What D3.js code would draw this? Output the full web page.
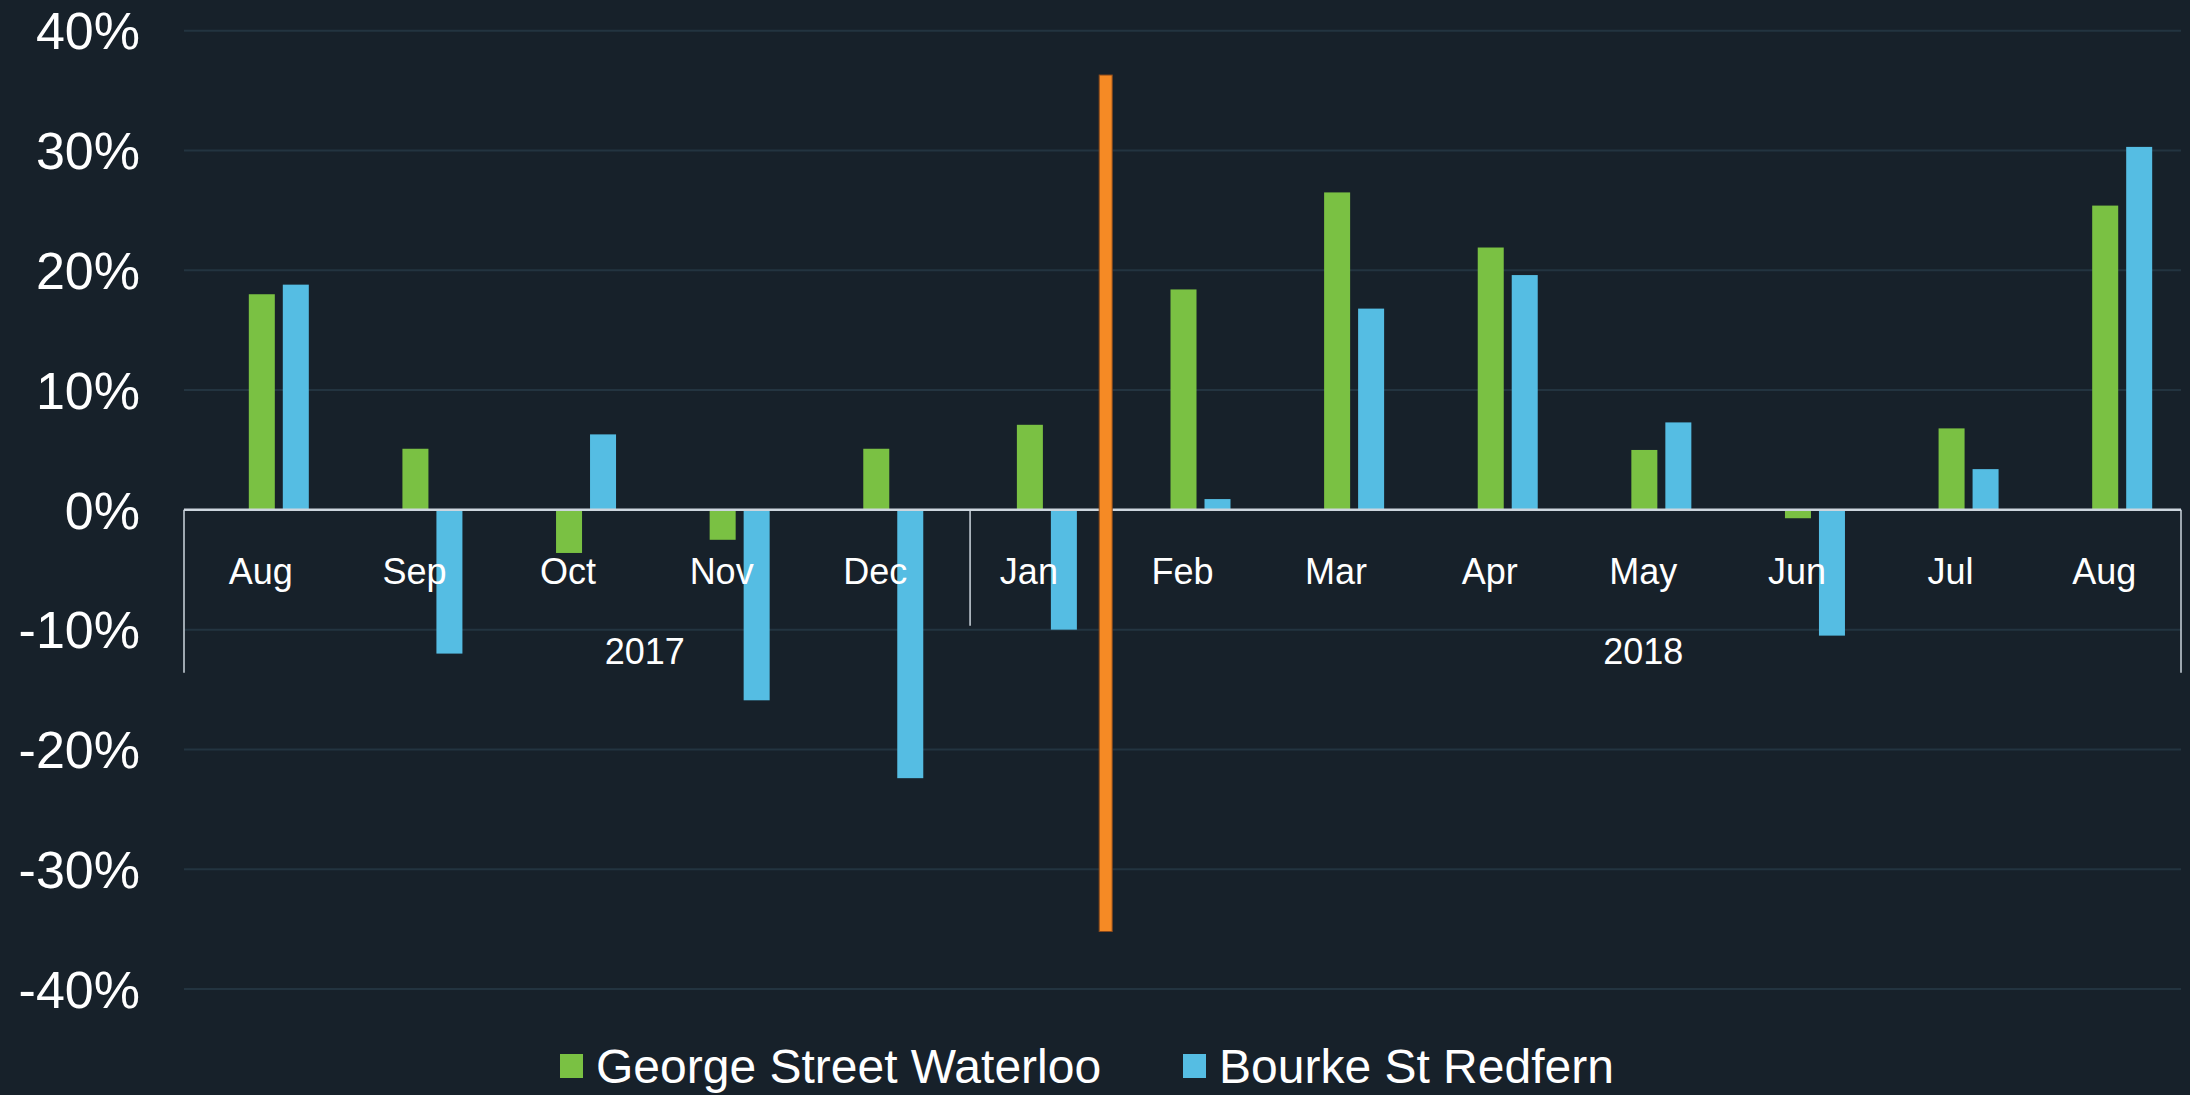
<!DOCTYPE html>
<html>
<head>
<meta charset="utf-8">
<script src="https://cdn.jsdelivr.net/npm/d3@7"></script>
<style>
    html, body { margin: 0; padding: 0; background: #17212a; }
    svg { display: block; font-family: "Liberation Sans", Arial, sans-serif; }
</style>
</head>
<body>
<svg id="chart" width="2190" height="1095"></svg>
<script>

// Categorias do eixo x (dois niveis: mes e ano)
const meses = ["Aug", "Sep", "Oct", "Nov", "Dec", "Jan", "Feb", "Mar", "Apr", "May", "Jun", "Jul", "Aug"];
const anos = ["2017", "2018"];
const mesesPorAno = [5, 8];

// Series (variacao em %)
const series = ["George Street Waterloo", "Bourke St Redfern"];
const georgeStreetWaterloo = [18.0, 5.1, -3.6, -2.5, 5.1, 7.1, 18.4, 26.5, 21.9, 5.0, -0.7, 6.8, 25.4];
const bourkeStRedfern = [18.8, -12.0, 6.3, -15.9, -22.4, -10.0, 0.9, 16.8, 19.6, 7.3, -10.5, 3.4, 30.3];

// Marcador laranja (inicio em Feb)
const marcadorMes = 6;
const marcadorFaixa = [-35.2, 36.3];

const ticksY = [-40, -30, -20, -10, 0, 10, 20, 30, 40];

const cores = ["#7ac143", "#55bde3"];
const corMarcador = "#f58a25";

const largura = 2190;
const margem = { left: 184, right: 9, top: 30.7, bottom: 106 };

const svg = d3.select("#chart");

const y = d3.scaleLinear()
    .domain([-40, 40])
    .range([largura * 0 + 1095 - margem.bottom, margem.top]);

const x = d3.scaleBand()
    .domain(d3.range(meses.length))
    .range([margem.left, largura - margem.right]);

// Os grupos de barras ficam um pouco deslocados a direita dos rotulos
const deslocamento = 18;
const xSerie = d3.scaleBand()
    .domain(series)
    .range([-12, 48])
    .paddingInner(0.235);

const centro = i => x(i) + x.bandwidth() / 2;

// Linhas de grade
svg.append("g")
    .selectAll("line")
    .data(ticksY.filter(t => t !== 0))
    .join("line")
        .attr("x1", margem.left)
        .attr("x2", largura - margem.right)
        .attr("y1", d => y(d))
        .attr("y2", d => y(d))
        .attr("stroke", "#233440")
        .attr("stroke-width", 2);

// Rotulos do eixo y
svg.append("g")
    .selectAll("text")
    .data(ticksY)
    .join("text")
        .attr("x", 140)
        .attr("y", d => y(d))
        .attr("dy", "0.36em")
        .attr("text-anchor", "end")
        .attr("fill", "#ffffff")
        .attr("font-size", 52)
        .text(d => d + "%");

// Barras
const dados = meses.map((m, i) => [georgeStreetWaterloo[i], bourkeStRedfern[i]]);

const grupos = svg.append("g")
    .selectAll("g")
    .data(dados)
    .join("g")
        .attr("transform", (d, i) => `translate(${centro(i)},0)`);

grupos.selectAll("rect")
    .data(d => d.map((v, k) => ({ serie: series[k], valor: v, k })))
    .join("rect")
        .attr("x", d => xSerie(d.serie))
        .attr("width", xSerie.bandwidth())
        .attr("y", d => y(Math.max(0, d.valor)))
        .attr("height", d => Math.abs(y(d.valor) - y(0)))
        .attr("fill", d => cores[d.k]);

// Eixo x: linha do zero
svg.append("line")
    .attr("x1", margem.left)
    .attr("x2", largura - margem.right)
    .attr("y1", y(0))
    .attr("y2", y(0))
    .attr("stroke", "#cdd6de")
    .attr("stroke-width", 2.5);

// Divisorias do eixo de dois niveis
const yBaseAxis = y(0) + 163;
const ySeparador = y(0) + 116;
const inicio2018 = centro(mesesPorAno[0] - 1) + x.step() / 2 + deslocamento;

svg.append("g")
    .selectAll("line")
    .data([
        { x: margem.left, y2: yBaseAxis },
        { x: inicio2018, y2: ySeparador },
        { x: largura - margem.right, y2: yBaseAxis }
    ])
    .join("line")
        .attr("x1", d => d.x)
        .attr("x2", d => d.x)
        .attr("y1", y(0))
        .attr("y2", d => d.y2)
        .attr("stroke", "#cdd6de")
        .attr("stroke-width", 1.5);

// Rotulos dos meses
svg.append("g")
    .selectAll("text")
    .data(meses)
    .join("text")
        .attr("x", (d, i) => centro(i))
        .attr("y", y(0) + 61)
        .attr("dy", "0.36em")
        .attr("text-anchor", "middle")
        .attr("fill", "#ffffff")
        .attr("font-size", 36)
        .text(d => d);

// Rotulos dos anos
let acumulado = 0;
const posAnos = mesesPorAno.map(n => {
    const idx = d3.range(acumulado, acumulado + n);
    acumulado += n;
    return d3.mean(idx, centro) + x.step() / 2;
});

svg.append("g")
    .selectAll("text")
    .data(anos)
    .join("text")
        .attr("x", (d, i) => posAnos[i])
        .attr("y", y(0) + 141)
        .attr("dy", "0.36em")
        .attr("text-anchor", "middle")
        .attr("fill", "#ffffff")
        .attr("font-size", 36)
        .text(d => d);

// Marcador laranja
svg.append("rect")
    .attr("x", x(marcadorMes) - 6.5)
    .attr("width", 13)
    .attr("y", y(marcadorFaixa[1]))
    .attr("height", y(marcadorFaixa[0]) - y(marcadorFaixa[1]))
    .attr("fill", corMarcador)
    .attr("stroke", "#8a4a1c")
    .attr("stroke-width", 1);

// Legenda
const legenda = svg.append("g");
const posLegenda = [560, 1183];

const itens = legenda.selectAll("g")
    .data(series)
    .join("g")
        .attr("transform", (d, i) => `translate(${posLegenda[i]},1066)`);

itens.append("rect")
    .attr("x", 0)
    .attr("y", -12)
    .attr("width", 23)
    .attr("height", 24)
    .attr("fill", (d, i) => cores[i]);

itens.append("text")
    .attr("x", 36)
    .attr("dy", "0.36em")
    .attr("fill", "#ffffff")
    .attr("font-size", 48)
    .text(d => d);

</script>
</body>
</html>
